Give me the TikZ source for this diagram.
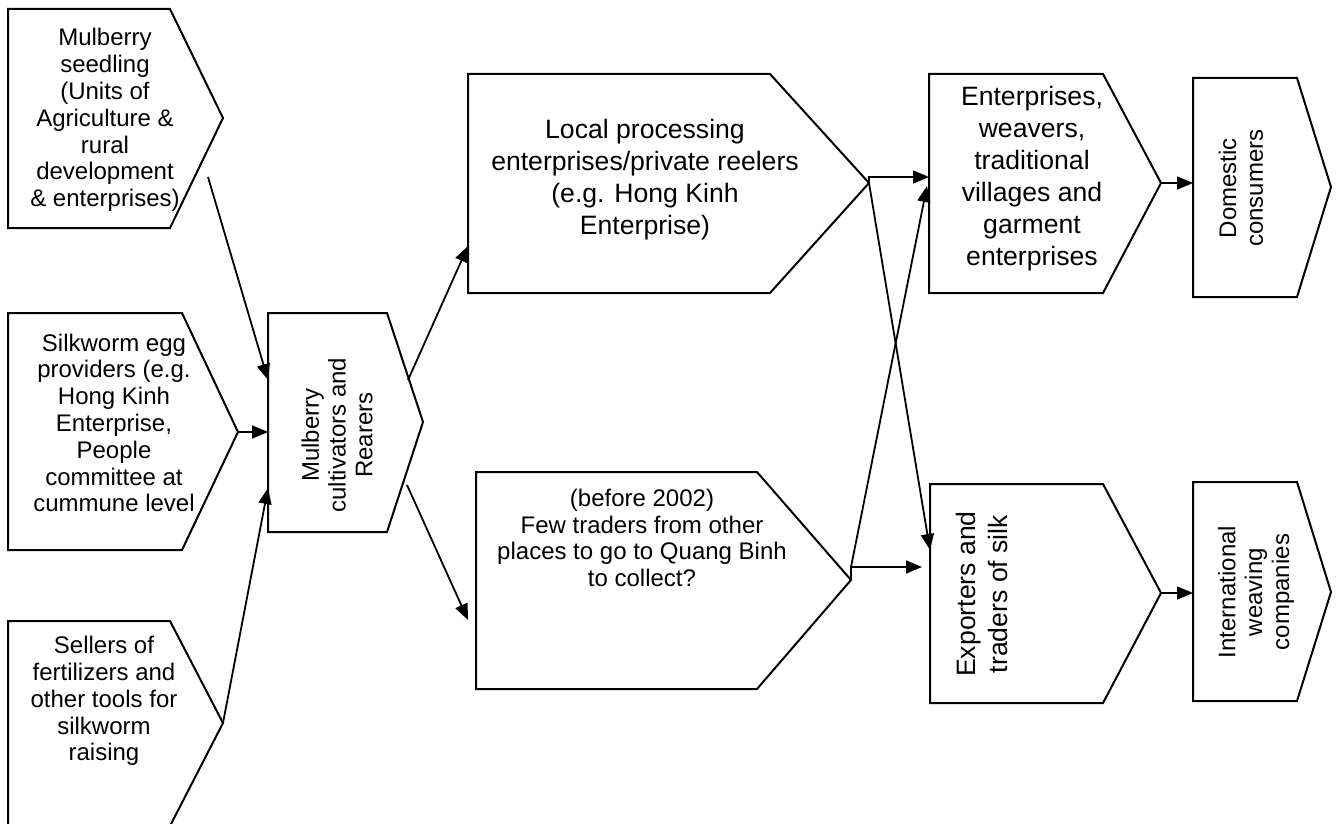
\documentclass[tikz,border=0pt]{standalone}
\usepackage{fontspec}
\setmainfont{Liberation Sans}
\usetikzlibrary{arrows.meta}
\begin{document}
\begin{tikzpicture}[x=0.5pt, y=-0.5pt,
	box/.style={draw, line width=1pt},
	txt/.style={align=center, inner sep=0pt, font=\fontsize{12}{13.4}\selectfont},
	bigtxt/.style={align=center, inner sep=0pt, font=\fontsize{13.3}{16}\selectfont},
	flow/.style={line width=0.9pt, -{Triangle[length=8pt,width=6.5pt]}}]
	\useasboundingbox (0,0) rectangle (1338,824);
	% suppliers
	\draw[box] (8,9) -- (170,9) -- (223,118) -- (170,228) -- (8,228) -- cycle;
	\node[txt] (seed) at (105,120) {Mulberry\\seedling\\(Units of\\Agriculture \&\\rural\\development\\\& enterprises)};
	\draw[box] (8,313) -- (182,313) -- (238,432) coordinate (egg-tip) -- (182,550) -- (8,550) -- cycle;
	\node[txt] (egg) at (114,423) {Silkworm egg\\providers (e.g.\\Hong Kinh\\Enterprise,\\People\\committee at\\cummune level};
	\draw[box] (8,621) -- (170,621) -- (223,723) coordinate (sell-tip) -- (170,826) -- (8,826) -- cycle;
	\node[txt] (sell) at (104,701) {Sellers of\\fertilizers and\\other tools for\\silkworm\\raising};
	% rearers
	\draw[box] (268,313) -- (387,313) -- (423,422) -- (387,532) -- (268,532) -- cycle;
	\node[txt, rotate=90] (rear) at (337,435) {Mulberry\\cultivators and\\Rearers};
	% collectors
	\draw[box] (468,74) -- (770,74) -- (869,183) coordinate (reel-tip) -- (770,293) -- (468,293) -- cycle;
	\node[bigtxt] (reel) at (645,180) {Local processing\\enterprises/private reelers\\(e.g. Hong Kinh\\Enterprise)};
	\draw[box] (476,472) -- (757,472) -- (851,580) coordinate (trad-tip) -- (757,689) -- (476,689) -- cycle;
	\node[txt] (trad) at (642,538) {(before 2002)\\Few traders from other\\places to go to Quang Binh\\to collect?};
	% processors and exporters
	\draw[box] (929,74) -- (1103,74) -- (1161,183) coordinate (weav-tip) -- (1103,293) -- (929,293) -- cycle;
	\node[bigtxt] (weav) at (1032,179) {Enterprises,\\weavers,\\traditional\\villages and\\garment\\enterprises};
	\draw[box] (930,484) -- (1103,484) -- (1161,593) coordinate (expo-tip) -- (1103,703) -- (930,703) -- cycle;
	\node[bigtxt, rotate=90] (expo) at (982,594) {Exporters and\\traders of silk};
	% consumers
	\draw[box] (1193,78) -- (1297,78) -- (1331,187) -- (1297,297) -- (1193,297) -- cycle;
	\node[txt, rotate=90] (dom) at (1241,188) {Domestic\\consumers};
	\draw[box] (1193,482) -- (1297,482) -- (1331,592) -- (1297,701) -- (1193,701) -- cycle;
	\node[txt, rotate=90] (intl) at (1256,592) {International\\weaving\\companies};
	% ports
	\coordinate (seed-out) at (208,177);
	\coordinate (rear-in1) at (268,380);
	\coordinate (rear-in2) at (268,432);
	\coordinate (rear-in3) at (268,488);
	\coordinate (rear-up) at (408,380);
	\coordinate (rear-dn) at (407,485);
	\coordinate (reel-in) at (468,246);
	\coordinate (trad-in) at (468,620);
	\coordinate (weav-in1) at (929,177);
	\coordinate (weav-in2) at (927,186);
	\coordinate (expo-in1) at (930,550);
	\coordinate (expo-in2) at (922,567);
	\coordinate (dom-in) at (1193,183);
	\coordinate (intl-in) at (1193,593);
	% flows
	\draw[flow] (seed-out) -- (rear-in1);
	\draw[flow] (egg-tip) -- (rear-in2);
	\draw[flow] (sell-tip) -- (rear-in3);
	\draw[flow] (rear-up) -- (reel-in);
	\draw[flow] (rear-dn) -- (trad-in);
	\draw[flow] (reel-tip) |- (weav-in1);
	\draw[flow] (reel-tip) -- (expo-in1);
	\draw[flow] (trad-tip) |- (expo-in2);
	\draw[flow] (trad-tip |- expo-in2) -- (weav-in2);
	\draw[flow] (weav-tip) -- (dom-in);
	\draw[flow] (expo-tip) -- (intl-in);
\end{tikzpicture}
\end{document}
